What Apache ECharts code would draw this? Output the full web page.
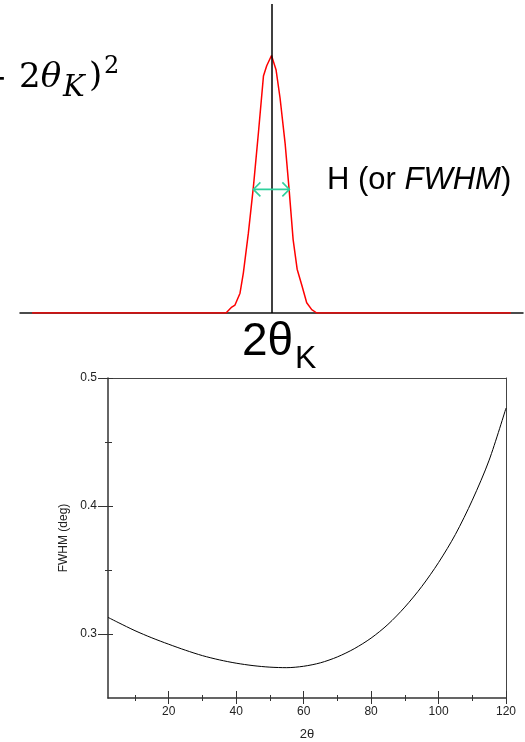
<!DOCTYPE html>
<html>
<head>
<meta charset="utf-8">
<script src="https://cdn.jsdelivr.net/npm/echarts@6/dist/echarts.min.js"></script>
<style>html,body{margin:0;padding:0;background:#fff}#c{width:525px;height:742px}</style>
</head>
<body>
<div id="c"></div>
<script>
// ---- top schematic: diffraction peak (arbitrary units) ----
const peakX = [-47.6, -9.05, -7.9, -7.26, -6.26, -5.6, -4.6, -3.6, -2.6, -1.6, -0.95, 0, 0.9, 1.7, 2.7, 3.5, 4.3, 5.1, 6.0, 7.0, 8.0, 9.0, 47.6];
const peakY = [0, 0, 0.023, 0.031, 0.077, 0.155, 0.31, 0.49, 0.70, 0.92, 0.96, 1.0, 0.945, 0.835, 0.66, 0.48, 0.285, 0.17, 0.11, 0.04, 0.013, 0, 0];
const peakCenter = 0;
const fwhmSpan = [-3.6, 3.55];
const fwhmLevel = 0.48;

// ---- bottom chart: FWHM vs 2theta ----
const twoTheta = [2, 5, 10, 15, 20, 25, 30, 35, 40, 45, 50, 55, 60, 65, 70, 75, 80, 85, 90, 95, 100, 105, 110, 115, 120];
const fwhm = [0.313, 0.309, 0.3026, 0.297, 0.292, 0.2873, 0.2831, 0.2798, 0.2772, 0.2753, 0.2741, 0.2737, 0.2748,
              0.2775, 0.2821, 0.2885, 0.2968, 0.3075, 0.3210, 0.3370, 0.3558, 0.3778, 0.4045, 0.4358, 0.4765];
const xMajor = [20, 40, 60, 80, 100, 120];
const xMinor = [10, 30, 50, 70, 90, 110];
const yMajor = [0.3, 0.4, 0.5];
const yMinor = [0.35, 0.45];

const FONT = "'Liberation Sans', Arial, sans-serif";
const SERIF = "'DejaVu Serif', 'Liberation Serif', serif";

const chart = echarts.init(document.getElementById('c'), null, {renderer: 'canvas'});

function tickAxis(extra) {
  return Object.assign({
    gridIndex: 1, type: 'value', min: 2, max: 120,
    axisLine: {show: false}, axisLabel: {show: false}, splitLine: {show: false}
  }, extra);
}
function tickYAxis(extra) {
  return Object.assign({
    gridIndex: 1, type: 'value', min: 0.25, max: 0.5,
    axisLine: {show: false}, axisLabel: {show: false}, splitLine: {show: false}
  }, extra);
}

const option = {
  backgroundColor: '#fff',
  animation: false,
  grid: [
    {left: 20, right: 2, top: 4, bottom: 429},
    {left: 108, right: 19, top: 378, bottom: 43}
  ],
  xAxis: [
    {gridIndex: 0, type: 'value', min: -50, max: 50,
     axisLine: {lineStyle: {color: '#111', width: 1.5}}, axisTick: {show: false},
     axisLabel: {show: false}, splitLine: {show: false}},
    {gridIndex: 1, type: 'value', min: 2, max: 120, position: 'bottom',
     axisLine: {lineStyle: {color: '#333', width: 1.5}},
     axisTick: {customValues: xMajor, length: 6, lineStyle: {color: '#333', width: 1}},
     axisLabel: {customValues: xMajor, margin: 8, fontSize: 12, color: '#222', fontFamily: FONT},
     splitLine: {show: false},
     name: '2\u03B8', nameLocation: 'middle', nameGap: 30,
     nameTextStyle: {fontSize: 13, color: '#222', fontFamily: FONT}},
    tickAxis({position: 'bottom', axisTick: {customValues: xMajor, inside: true, length: 7, lineStyle: {color: '#333'}}}),
    tickAxis({position: 'bottom', axisTick: {customValues: xMinor, length: 3, lineStyle: {color: '#333'}}}),
    tickAxis({position: 'bottom', axisTick: {customValues: xMinor, inside: true, length: 3, lineStyle: {color: '#333'}}}),
    tickAxis({position: 'top', axisLine: {show: true, lineStyle: {color: '#444', width: 1}}, axisTick: {show: false}})
  ],
  yAxis: [
    {gridIndex: 0, type: 'value', min: 0, max: 1.2, show: false},
    {gridIndex: 1, type: 'value', min: 0.25, max: 0.5, position: 'left',
     axisLine: {lineStyle: {color: '#333', width: 1.5}},
     axisTick: {customValues: yMajor, length: 10, lineStyle: {color: '#333'}},
     axisLabel: {customValues: yMajor, margin: 11, fontSize: 12, color: '#222', fontFamily: FONT,
                 formatter: v => v.toFixed(1)},
     splitLine: {show: false},
     name: 'FWHM (deg)', nameLocation: 'middle', nameRotate: 90, nameGap: 35,
     nameTextStyle: {fontSize: 12, color: '#222', fontFamily: FONT}},
    tickYAxis({position: 'left', axisTick: {customValues: yMajor, inside: true, length: 5, lineStyle: {color: '#333'}}}),
    tickYAxis({position: 'left', axisTick: {customValues: yMinor, length: 3, lineStyle: {color: '#333'}}}),
    tickYAxis({position: 'left', axisTick: {customValues: yMinor, inside: true, length: 4, lineStyle: {color: '#333'}}}),
    tickYAxis({position: 'right', axisLine: {show: true, lineStyle: {color: '#444', width: 1}}, axisTick: {show: false}})
  ],
  series: [
    {type: 'line', xAxisIndex: 0, yAxisIndex: 0, showSymbol: false, silent: true,
     data: peakX.map((x, i) => [x, peakY[i]]),
     lineStyle: {color: '#ff0000', width: 1.5}, z: 3,
     markLine: {silent: true, symbol: 'none', label: {show: false},
                lineStyle: {color: '#000', width: 1.5, type: 'solid'},
                data: [{xAxis: peakCenter}]}},
    {type: 'custom', xAxisIndex: 0, yAxisIndex: 0, silent: true, z: 5,
     data: [[fwhmSpan[0], fwhmSpan[1], fwhmLevel]],
     renderItem: function (params, api) {
       const a = api.coord([api.value(0), api.value(2)]);
       const b = api.coord([api.value(1), api.value(2)]);
       const s = 7;
       const st = {stroke: '#2fd09c', lineWidth: 1.6, fill: null};
       return {type: 'group', children: [
         {type: 'line', shape: {x1: a[0], y1: a[1], x2: b[0], y2: b[1]}, style: st},
         {type: 'polyline', shape: {points: [[a[0] + s, a[1] - s], [a[0], a[1]], [a[0] + s, a[1] + s]]}, style: st},
         {type: 'polyline', shape: {points: [[b[0] - s, b[1] - s], [b[0], b[1]], [b[0] - s, b[1] + s]]}, style: st}
       ]};
     }},
    {type: 'line', xAxisIndex: 1, yAxisIndex: 1, showSymbol: false, silent: true, smooth: 0.3,
     data: twoTheta.map((x, i) => [x, fwhm[i]]),
     lineStyle: {color: '#000', width: 1}}
  ],
  graphic: [
    {type: 'text', x: -21, y: 80, silent: true,
     style: {text: '+', font: '34px ' + SERIF, fill: '#000', textVerticalAlign: 'middle'}},
    {type: 'text', x: 19, y: 78, silent: true,
     style: {text: '{n|2}{i|\u03B8}', textVerticalAlign: 'middle',
             rich: {n: {font: '34px ' + SERIF, fill: '#000'}, i: {font: 'italic 34px ' + SERIF, fill: '#000'}}}},
    {type: 'text', x: 63, y: 88, silent: true,
     style: {text: 'K', font: 'italic 29px ' + SERIF, fill: '#000', textVerticalAlign: 'middle'}},
    {type: 'text', x: 89, y: 77, silent: true,
     style: {text: ')', font: '34px ' + SERIF, fill: '#000', textVerticalAlign: 'middle'}},
    {type: 'text', x: 104, y: 67, silent: true,
     style: {text: '2', font: '24px ' + SERIF, fill: '#000', textVerticalAlign: 'middle'}},
    {type: 'text', x: 327, y: 180, silent: true,
     style: {text: '{n|H (or }{i|FWHM}{n|)}', textVerticalAlign: 'middle',
             rich: {n: {font: '31px ' + FONT, fill: '#000'}, i: {font: 'italic 31px ' + FONT, fill: '#000'}}}},
    {type: 'text', x: 242, y: 342, silent: true,
     style: {text: '2\u03B8', font: '46px ' + FONT, fill: '#000', textVerticalAlign: 'middle'}},
    {type: 'text', x: 295, y: 359, silent: true,
     style: {text: 'K', font: '32px ' + FONT, fill: '#000', textVerticalAlign: 'middle'}}
  ]
};
chart.setOption(option);
</script>
</body>
</html>
